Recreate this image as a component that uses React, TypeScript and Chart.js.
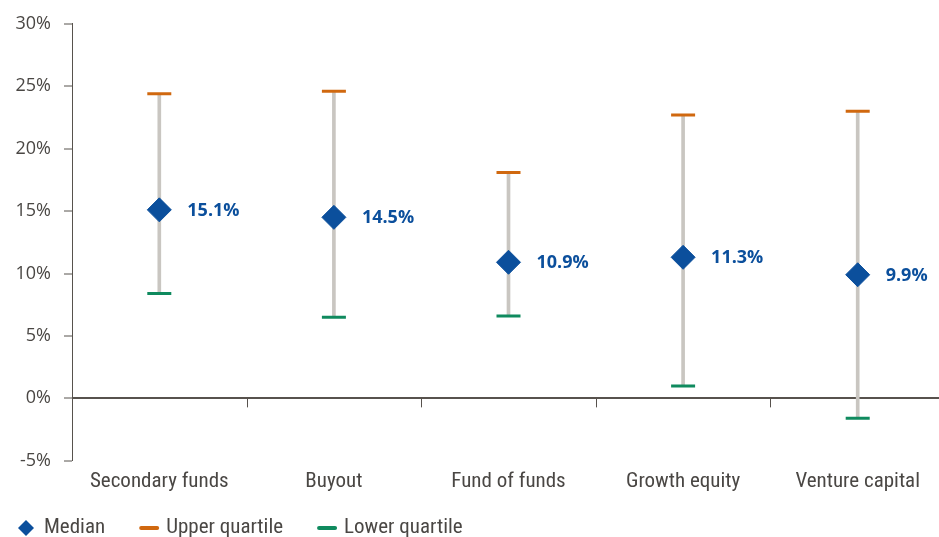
import React, { useEffect, useRef } from "react";
import { Chart, registerables } from "chart.js";

Chart.register(...registerables);

const categories = ["Secondary funds", "Buyout", "Fund of funds", "Growth equity", "Venture capital"];
const medianValues = [15.1, 14.5, 10.9, 11.3, 9.9];
const upperQuartile = [24.4, 24.6, 18.1, 22.7, 23.0];
const lowerQuartile = [8.4, 6.5, 6.6, 1.0, -1.6];
const yTicks = [-5, 0, 5, 10, 15, 20, 25, 30];
const legendLabels = ["Median", "Upper quartile", "Lower quartile"];

const FONT = "'Roboto Condensed', 'Open Sans', sans-serif";
const YFONT = "'Open Sans', sans-serif";
const TEXT = "#4a4744";
const AXIS = "#57524d";
const BLUE = "#0b4f9c";
const ORANGE = "#d0680f";
const GREEN = "#0f8a5e";
const WHISKER = "#c9c6c1";

const medianLabelPlugin = {
  id: "medianLabels",
  afterDatasetsDraw(chart: any) {
    const meta = chart.getDatasetMeta(3);
    const ctx = chart.ctx;
    ctx.save();
    ctx.font = `bold 18px ${YFONT}`;
    ctx.fillStyle = BLUE;
    ctx.textAlign = "left";
    ctx.textBaseline = "middle";
    meta.data.forEach((pt: any, i: number) => {
      ctx.fillText(medianValues[i].toFixed(1) + "%", pt.x + 28, pt.y + 1);
    });
    ctx.restore();
  },
};

const axisTicksPlugin = {
  id: "zeroAxisTicks",
  afterDraw(chart: any) {
    const x = chart.scales.x;
    const y = chart.scales.y;
    const y0 = y.getPixelForValue(0);
    const ctx = chart.ctx;
    ctx.save();
    ctx.strokeStyle = AXIS;
    ctx.lineWidth = 1;
    for (let i = 1; i < categories.length; i++) {
      const px = Math.round((x.getPixelForValue(i - 1) + x.getPixelForValue(i)) / 2) + 0.5;
      ctx.beginPath();
      ctx.moveTo(px, y0);
      ctx.lineTo(px, y0 + 9);
      ctx.stroke();
    }
    ctx.restore();
  },
};

const customLegendPlugin = {
  id: "customLegend",
  afterDraw(chart: any) {
    const ctx = chart.ctx;
    const cy = chart.height - 9;
    ctx.save();
    ctx.font = `21px ${FONT}`;
    ctx.textBaseline = "middle";
    ctx.textAlign = "left";
    let x = 18;
    legendLabels.forEach((label, i) => {
      if (i === 0) {
        ctx.fillStyle = BLUE;
        ctx.beginPath();
        ctx.moveTo(x, cy);
        ctx.lineTo(x + 8, cy - 8);
        ctx.lineTo(x + 16, cy);
        ctx.lineTo(x + 8, cy + 8);
        ctx.closePath();
        ctx.fill();
        x += 16 + 10;
      } else {
        ctx.strokeStyle = i === 1 ? ORANGE : GREEN;
        ctx.lineWidth = 4;
        ctx.lineCap = "round";
        ctx.beginPath();
        ctx.moveTo(x + 2, cy);
        ctx.lineTo(x + 18, cy);
        ctx.stroke();
        x += 20 + 7;
      }
      ctx.fillStyle = TEXT;
      ctx.fillText(label, x, cy);
      x += ctx.measureText(label).width + 34;
    });
    ctx.restore();
  },
};

export default function App() {
  const ref = useRef<HTMLCanvasElement | null>(null);

  useEffect(() => {
    if (!ref.current) return;
    const chart = new Chart(ref.current, {
      type: "bar",
      data: {
        labels: categories,
        datasets: [
          {
            type: "bar",
            label: "Range",
            data: categories.map((_, i) => [lowerQuartile[i], upperQuartile[i]]) as any,
            backgroundColor: WHISKER,
            barThickness: 3,
            order: 4,
          } as any,
          {
            type: "line",
            label: "Upper quartile",
            data: upperQuartile,
            showLine: false,
            pointStyle: "line",
            pointRadius: 12,
            pointBorderWidth: 3,
            borderColor: ORANGE,
            backgroundColor: ORANGE,
            order: 3,
          },
          {
            type: "line",
            label: "Lower quartile",
            data: lowerQuartile,
            showLine: false,
            pointStyle: "line",
            pointRadius: 12,
            pointBorderWidth: 3,
            borderColor: GREEN,
            backgroundColor: GREEN,
            order: 2,
          },
          {
            type: "line",
            label: "Median",
            data: medianValues,
            showLine: false,
            pointStyle: "rectRot",
            pointRadius: 12,
            pointBorderWidth: 1,
            borderColor: BLUE,
            backgroundColor: BLUE,
            order: 1,
          },
        ],
      },
      options: {
        responsive: false,
        animation: false,
        devicePixelRatio: 1,
        layout: { padding: { top: 9, right: 2, bottom: 35, left: 0 } },
        plugins: {
          legend: { display: false },
          tooltip: { enabled: false },
        },
        scales: {
          x: {
            offset: true,
            grid: { display: false, drawTicks: false },
            border: { display: false },
            ticks: {
              color: TEXT,
              font: { family: FONT, size: 21 },
              padding: 8,
              maxRotation: 0,
              autoSkip: false,
            },
          },
          y: {
            min: -5,
            max: 30,
            afterFit(scale: any) {
              scale.width = 72;
            },
            afterBuildTicks(scale: any) {
              scale.ticks = yTicks.map((v) => ({ value: v }));
            },
            ticks: {
              color: TEXT,
              font: { family: YFONT, size: 18 },
              padding: 13,
              callback: (v: any) => `${v}%`,
            },
            border: { display: true, color: AXIS, width: 1 },
            grid: {
              drawOnChartArea: true,
              color: (c: any) => (c.tick && c.tick.value === 0 ? AXIS : "rgba(0,0,0,0)"),
              lineWidth: (c: any) => (c.tick && c.tick.value === 0 ? 2 : 0),
              tickColor: AXIS,
              tickWidth: 1,
              tickLength: 8,
            },
          },
        },
      },
      plugins: [medianLabelPlugin, axisTicksPlugin, customLegendPlugin],
    });
    return () => chart.destroy();
  }, []);

  return (
    <div style={{ position: "absolute", left: 0, top: 0, width: 939, height: 537, overflow: "hidden", background: "#fff" }}>
      <canvas ref={ref} width={960} height={537} style={{ display: "block", width: 960, height: 537 }} />
    </div>
  );
}
